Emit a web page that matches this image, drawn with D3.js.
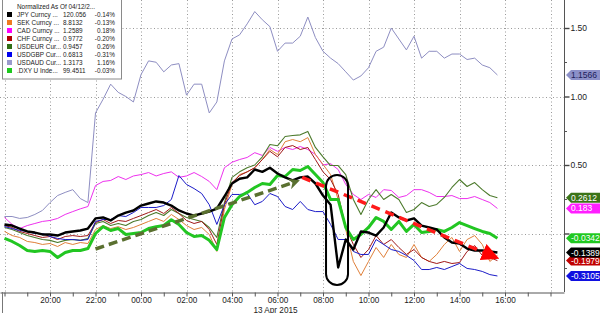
<!DOCTYPE html>
<html>
<head>
<meta charset="utf-8">
<script src="https://cdn.jsdelivr.net/npm/d3@7"></script>
<style>
  body { margin: 0; background: #fff; }
  svg { display: block; font-family: "Liberation Sans", Arial, sans-serif; }
</style>
</head>
<body>
<div id="chart"></div>
<script>
// legend table
const legendTitle = "Normalized As Of 04/12/2...";
const legendNames = ["JPY Curncy ...", "SEK Curncy ...", "CAD Curncy ...", "CHF Curncy ...",
                     "USDEUR Cur...", "USDGBP Cur...", "USDAUD Cur...", ".DXY U Inde..."];
const legendPrices = ["120.056", "8.8132", "1.2589", "0.9772", "0.9457", "0.6813", "1.3173", "99.4511"];
const legendChanges = ["-0.14%", "-0.13%", "0.18%", "-0.20%", "0.26%", "-0.31%", "1.16%", "-0.03%"];

// 20 minute samples, 12 Apr 18:00 -> 13 Apr 15:40
const startTime = new Date(2015, 3, 12, 18, 0);
const endTime = new Date(2015, 3, 13, 15, 41);

const jpy = [0.066, 0.058, 0.036, 0.015, 0.007, -0.007, -0.007, -0.015, 0.007, 0.015, 0.022,
  0.036, 0.11, 0.117, 0.095, 0.131, 0.153, 0.168, 0.204, 0.219, 0.234, 0.226,
  0.204, 0.168, 0.146, 0.131, 0.146, 0.16, 0.182, 0.27, 0.365, 0.40, 0.41,
  0.467, 0.45, 0.48, 0.438, 0.41, 0.387, 0.41, 0.416, 0.365, 0.277, 0.21,
  -0.248, -0.044, -0.117, 0.015, 0.007, -0.015, 0.044, 0.153, 0.117, 0.095, 0.11,
  0.058, 0.044, 0.029, -0.029, -0.066, -0.073, -0.11, -0.124, -0.124, -0.131, -0.139];
const sek = [0.015, -0.015, -0.029, -0.058, -0.066, -0.08, -0.073, -0.095, -0.066, -0.08, -0.066,
  -0.073, 0.029, 0.058, 0.036, 0.05, 0.029, 0.044, 0.066, 0.088, 0.11, 0.088,
  0.139, 0.102, 0.058, 0.029, 0.044, -0.007, -0.131, 0.175, 0.358, 0.43, 0.45,
  0.48, 0.54, 0.613, 0.577, 0.67, 0.686, 0.67, 0.70, 0.577, 0.504, 0.43,
  0.248, 0.029, -0.204, -0.307, -0.204, -0.102, -0.175, -0.08, -0.153, -0.175, -0.08,
  -0.175, -0.204, -0.153, -0.08, -0.029, -0.131, -0.044, -0.015, -0.08, -0.204, -0.16];
const cad = [0.117, 0.066, 0.036, 0.058, 0.073, 0.088, 0.095, 0.11, 0.139, 0.16, 0.18,
  0.197, 0.35, 0.38, 0.387, 0.416, 0.394, 0.42, 0.43, 0.445, 0.42, 0.438,
  0.45, 0.41, 0.42, 0.445, 0.416, 0.38, 0.32, 0.48, 0.52, 0.54, 0.555,
  0.59, 0.57, 0.628, 0.60, 0.628, 0.613, 0.635, 0.613, 0.577, 0.50, 0.51,
  0.467, 0.358, 0.285, 0.248, 0.285, 0.263, 0.32, 0.314, 0.263, 0.277, 0.32,
  0.32, 0.30, 0.27, 0.27, 0.277, 0.255, 0.255, 0.27, 0.248, 0.226, 0.183];
const chf = [0.058, 0.044, 0.015, 0.0, -0.015, -0.029, -0.022, -0.044, -0.022, -0.015, -0.022,
  -0.015, 0.08, 0.102, 0.073, 0.095, 0.088, 0.11, 0.131, 0.153, 0.175, 0.146,
  0.19, 0.146, 0.095, 0.073, 0.088, 0.029, -0.08, 0.21, 0.372, 0.423, 0.45,
  0.48, 0.54, 0.60, 0.56, 0.628, 0.642, 0.613, 0.628, 0.54, 0.45, 0.394,
  0.285, 0.044, -0.08, -0.175, -0.117, -0.015, -0.08, -0.044, -0.102, -0.153, -0.117,
  -0.175, -0.204, -0.219, -0.204, -0.219, -0.212, -0.131, -0.088, -0.16, -0.175, -0.198];
const eur = [0.044, 0.029, 0.007, -0.015, -0.029, -0.044, -0.05, -0.066, -0.05, -0.044, -0.05,
  -0.036, 0.073, 0.088, 0.058, 0.073, 0.058, 0.088, 0.102, 0.131, 0.153, 0.131,
  0.175, 0.146, 0.117, 0.102, 0.088, 0.044, -0.029, 0.226, 0.41, 0.45, 0.48,
  0.50, 0.56, 0.65, 0.64, 0.708, 0.715, 0.72, 0.745, 0.628, 0.56, 0.496,
  0.496, 0.43, 0.248, 0.139, 0.248, 0.32, 0.248, 0.285, 0.248, 0.153, 0.175,
  0.226, 0.197, 0.212, 0.263, 0.336, 0.394, 0.343, 0.372, 0.32, 0.277, 0.261];
const gbp = [0.051, 0.036, 0.022, 0.015, 0.0, 0.0, -0.022, -0.036, -0.044, -0.044, -0.05,
  -0.044, 0.088, 0.102, 0.102, 0.131, 0.124, 0.153, 0.19, 0.19, 0.19, 0.204,
  0.248, 0.423, 0.358, 0.328, 0.292, 0.21, 0.066, 0.21, 0.285, 0.285, 0.292,
  0.21, 0.234, 0.292, 0.27, 0.197, 0.175, 0.234, 0.175, 0.16, 0.16, 0.066,
  -0.044, -0.044, -0.131, -0.153, -0.153, -0.044, -0.08, -0.117, -0.131, -0.16, -0.197,
  -0.263, -0.263, -0.248, -0.263, -0.241, -0.219, -0.255, -0.263, -0.277, -0.30, -0.31];
const aud = [0.124, 0.124, 0.11, 0.117, 0.139, 0.168, 0.226, 0.277, 0.30, 0.32, 0.255,
  0.226, 0.88, 0.98, 1.09, 1.03, 1.0, 0.96, 1.16, 1.26, 1.25, 1.18,
  1.23, 1.24, 1.01, 1.09, 1.09, 0.88, 0.96, 1.26, 1.42, 1.45, 1.53,
  1.62, 1.56, 1.51, 1.33, 1.39, 1.39, 1.44, 1.58, 1.43, 1.33, 1.28,
  1.24, 1.18, 1.12, 1.15, 1.21, 1.33, 1.36, 1.50, 1.42, 1.34, 1.44,
  1.28, 1.33, 1.33, 1.28, 1.31, 1.31, 1.27, 1.28, 1.23, 1.21, 1.157];
const dxy = [-0.036, -0.058, -0.088, -0.124, -0.131, -0.124, -0.131, -0.175, -0.139, -0.124, -0.124,
  -0.11, 0.0, 0.05, 0.022, 0.036, -0.007, 0.0, 0.007, 0.036, 0.05, 0.058,
  0.10, 0.066, 0.007, -0.022, -0.015, -0.05, -0.117, 0.117, 0.21, 0.27, 0.30,
  0.336, 0.365, 0.358, 0.423, 0.416, 0.467, 0.46, 0.489, 0.43, 0.372, 0.248,
  0.248, 0.044, -0.044, -0.007, 0.044, 0.117, 0.088, 0.029, 0.088, 0.015, 0.066,
  0.007, 0.015, 0.029, 0.015, 0.044, 0.08, 0.058, 0.036, 0.015, 0.0, -0.034];

// last value tags on the right axis (drawn in this order)
const tagText = ["1.1566", "0.2612", "0.183", "-0.0342", "-0.1979", "-0.1389", "-0.3105"];
const tagValue = [1.1566, 0.2612, 0.183, -0.0342, -0.1979, -0.1389, -0.3105];
const tagKey = ["aud", "eur", "cad", "dxy", "chf", "jpy", "gbp"];

// 0.00 label sits under the -0.0342 tag in the original, so only these are printed
const yTicks = [0, 0.5, 1.0, 1.5];
const yTickLabels = ["", "0.50", "1.00", "1.50"];
const yMinorTicks = [-0.25, 0.25, 0.75, 1.25];

function drawChart() {
  const W = 600, H = 313, axisX = 564, axisY = 292;

  const colors = {
    jpy: "#000000", sek: "#e0803a", cad: "#ee30ee", chf: "#a01818",
    eur: "#4c7a2c", gbp: "#1c1cc8", aud: "#8e8ec2", dxy: "#22c622"
  };
  const legendColors = ["#000000", "#f07a20", "#ff00ff", "#b00000", "#2f6e14", "#0000ee", "#9a9acc", "#1ec81e"];
  const tagFill = { aud: "#8c90c8", eur: "#3b7418", cad: "#ff1eff", dxy: "#20c820", chf: "#c00000", jpy: "#000000", gbp: "#1010e0" };
  const tagInk = { aud: "#20205a" };

  d3.select("#chart").html("");
  const svg = d3.select("#chart").append("svg")
      .attr("width", W)
      .attr("height", H);

  const times = d3.timeMinute.every(20).range(startTime, endTime);

  const x = d3.scaleTime()
      .domain([new Date(2015, 3, 12, 18, 0), new Date(2015, 3, 13, 16, 0)])
      .range([4.5, 505]);
  const xAxisScale = x.copy().domain([x.invert(0), x.invert(axisX)]).range([0, axisX]);
  const firstLabel = new Date(2015, 3, 12, 20, 0), lastLabel = new Date(2015, 3, 13, 16, 0);

  const y = d3.scaleLinear()
      .domain([(233.5 - axisY) / 137, 233.5 / 137])
      .range([axisY, 0]);

  // grid
  const evenHours = d3.timeHour.every(2).range(x.invert(0), x.invert(axisX));
  svg.append("g")
    .selectAll("line")
    .data(evenHours)
    .join("line")
      .attr("x1", d => Math.round(x(d)) + 0.5)
      .attr("x2", d => Math.round(x(d)) + 0.5)
      .attr("y1", 0)
      .attr("y2", axisY)
      .attr("stroke", "#9a9a9a")
      .attr("stroke-dasharray", "1,2.5");
  svg.append("g")
    .selectAll("line")
    .data(yTicks)
    .join("line")
      .attr("x1", 0)
      .attr("x2", axisX)
      .attr("y1", d => Math.round(y(d)) + 0.5)
      .attr("y2", d => Math.round(y(d)) + 0.5)
      .attr("stroke", "#9a9a9a")
      .attr("stroke-dasharray", "1,2.5");

  // series
  const series = [
    { key: "aud", values: aud, w: 1 },
    { key: "cad", values: cad, w: 1 },
    { key: "eur", values: eur, w: 1.1 },
    { key: "sek", values: sek, w: 1 },
    { key: "chf", values: chf, w: 1 },
    { key: "gbp", values: gbp, w: 1 },
    { key: "dxy", values: dxy, w: 3 },
    { key: "jpy", values: jpy, w: 2.4 }
  ];
  const line = d3.line()
      .x((d, i) => x(times[i]))
      .y(d => y(d));
  svg.append("g")
    .selectAll("path")
    .data(series)
    .join("path")
      .attr("fill", "none")
      .attr("stroke", d => colors[d.key])
      .attr("stroke-width", d => d.w)
      .attr("stroke-linejoin", "round")
      .attr("d", d => line(d.values));

  // annotations
  const defs = svg.append("defs");
  defs.append("marker")
      .attr("id", "headGreen")
      .attr("viewBox", "0 0 10 10")
      .attr("refX", 5).attr("refY", 5)
      .attr("markerWidth", 3.2).attr("markerHeight", 3.2)
      .attr("orient", "auto")
    .append("path")
      .attr("d", "M0,0 L10,5 L0,10 L3,5 Z")
      .attr("fill", "#5a7030");
  defs.append("marker")
      .attr("id", "headRed")
      .attr("viewBox", "0 0 10 10")
      .attr("refX", 3).attr("refY", 5)
      .attr("markerWidth", 5).attr("markerHeight", 5)
      .attr("orient", "auto")
    .append("path")
      .attr("d", "M0,0 L10,5 L0,10 Z")
      .attr("fill", "#ff0000");

  const t = (d, h, m) => new Date(2015, 3, d, h, m);
  svg.append("line")
      .attr("x1", x(t(12, 22, 0))).attr("y1", y(-0.113))
      .attr("x2", x(t(13, 6, 45))).attr("y2", y(0.375))
      .attr("stroke", "#5a7030")
      .attr("stroke-width", 3.5)
      .attr("stroke-dasharray", "9,5")
      .attr("marker-end", "url(#headGreen)");
  svg.append("line")
      .attr("x1", x(t(13, 7, 5))).attr("y1", y(0.41))
      .attr("x2", x(t(13, 15, 15))).attr("y2", y(-0.15))
      .attr("stroke", "#ff1a1a")
      .attr("stroke-width", 3.5)
      .attr("stroke-dasharray", "9,6")
      .attr("marker-end", "url(#headRed)");
  const ovalL = x(t(13, 8, 8)), ovalR = x(t(13, 9, 6));
  svg.append("rect")
      .attr("x", ovalL)
      .attr("y", y(0.427))
      .attr("width", ovalR - ovalL)
      .attr("height", y(-0.376) - y(0.427))
      .attr("rx", 11)
      .attr("fill", "none")
      .attr("stroke", "#000")
      .attr("stroke-width", 2);

  // bottom axis
  const xAxis = svg.append("g")
      .attr("transform", `translate(0,${axisY + 0.5})`)
      .call(d3.axisBottom(xAxisScale)
        .ticks(d3.timeHour.every(1))
        .tickSize(4)
        .tickSizeOuter(0)
        .tickFormat(d => (d.getHours() % 2 === 0 && d >= firstLabel && d <= lastLabel)
          ? d3.timeFormat("%H:%M")(d) : ""));
  xAxis.select(".domain").attr("stroke", "#555");
  xAxis.selectAll(".tick line").attr("stroke", "#555");
  xAxis.selectAll(".tick text")
      .attr("font-size", "8.2px")
      .attr("font-family", "Liberation Sans, Arial, sans-serif")
      .attr("fill", "#222")
      .attr("y", 5)
      .attr("dy", "0.71em");
  svg.append("text")
      .attr("x", x(t(13, 6, 0)) - 2)
      .attr("y", 312.5)
      .attr("text-anchor", "middle")
      .attr("font-size", "8.2px")
      .attr("fill", "#222")
      .text("13 Apr 2015");
  svg.append("line")
      .attr("x1", 2.5).attr("x2", 2.5)
      .attr("y1", axisY).attr("y2", H)
      .attr("stroke", "#777");

  // right axis
  const yAxis = svg.append("g")
      .attr("transform", `translate(${axisX + 0.5},0)`)
      .call(d3.axisRight(y)
        .tickValues(yTicks)
        .tickSize(5)
        .tickSizeOuter(0)
        .tickFormat((d, i) => yTickLabels[i]));
  yAxis.select(".domain").attr("stroke", "#555").attr("d", `M0,0V${axisY}`);
  yAxis.selectAll(".tick line").attr("stroke", "#444").attr("stroke-width", 1.4);
  yAxis.selectAll(".tick text")
      .attr("x", 6)
      .attr("font-size", "8.5px")
      .attr("font-family", "Liberation Sans, Arial, sans-serif")
      .attr("fill", "#222");
  svg.append("g")
    .selectAll("line")
    .data(yMinorTicks)
    .join("line")
      .attr("x1", axisX).attr("x2", axisX + 3)
      .attr("y1", d => Math.round(y(d)) + 0.5)
      .attr("y2", d => Math.round(y(d)) + 0.5)
      .attr("stroke", "#555");

  // last value tags
  const tags = svg.append("g")
    .selectAll("g")
    .data(tagValue.map((v, i) => ({ v, text: tagText[i], key: tagKey[i] })))
    .join("g")
      .attr("transform", d => `translate(0,${y(d.v)})`);
  tags.append("path")
      .attr("d", "M566,0 L571,-5 L600,-5 L600,5 L571,5 Z")
      .attr("fill", d => tagFill[d.key]);
  tags.append("text")
      .attr("x", 571)
      .attr("y", 3)
      .attr("font-size", "8.5px")
      .attr("fill", d => tagInk[d.key] || "#fff")
      .text(d => d.text);

  // legend box
  const fs = "6.4px";
  const lg = svg.append("g");
  lg.append("rect")
      .attr("x", 2.5).attr("y", -1)
      .attr("width", 119).attr("height", 80)
      .attr("fill", "#fff")
      .attr("stroke", "#8a8a8a");
  lg.append("text")
      .attr("x", 17).attr("y", 8.5)
      .attr("font-size", fs)
      .attr("fill", "#222")
      .text(legendTitle);
  const rows = lg.selectAll("g.row")
    .data(legendNames)
    .join("g")
      .attr("class", "row")
      .attr("transform", (d, i) => `translate(0,${14.5 + i * 8})`);
  rows.append("rect")
      .attr("x", 7).attr("y", -2.5)
      .attr("width", 5).attr("height", 5)
      .attr("fill", (d, i) => legendColors[i]);
  rows.append("text")
      .attr("x", 17).attr("y", 2.3)
      .attr("font-size", fs)
      .attr("fill", "#222")
      .text(d => d);
  rows.append("text")
      .attr("x", 63).attr("y", 2.3)
      .attr("font-size", fs)
      .attr("fill", "#222")
      .text((d, i) => legendPrices[i]);
  rows.append("text")
      .attr("x", 115).attr("y", 2.3)
      .attr("text-anchor", "end")
      .attr("font-size", fs)
      .attr("fill", "#222")
      .text((d, i) => legendChanges[i]);
}

document.addEventListener("DOMContentLoaded", drawChart);
</script>
</body>
</html>
